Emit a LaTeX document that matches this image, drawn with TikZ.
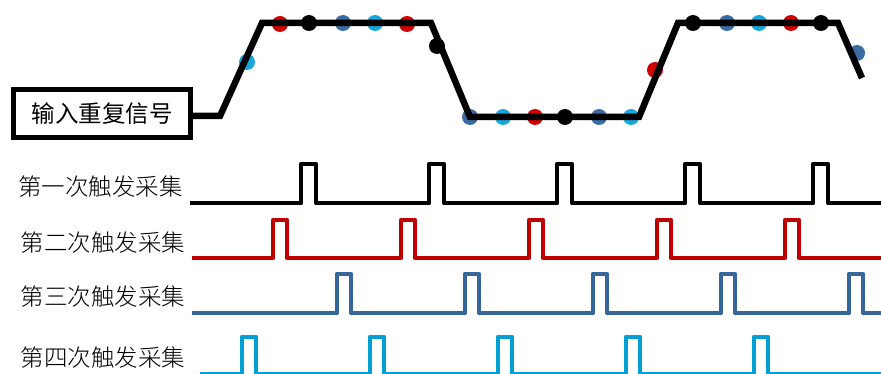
\documentclass[tikz,border=0pt]{standalone}
\usepackage{fontspec}
\newfontfamily\cjk{Noto Sans CJK SC}
\newfontfamily\cjklt{Noto Sans CJK SC Light}
\definecolor{cred}{HTML}{C00000}
\definecolor{cdblue}{HTML}{35679A}
\definecolor{ccyan}{HTML}{00A0D4}
\definecolor{dcyan}{HTML}{1AA6DC}
\definecolor{ddblue}{HTML}{3A6CA3}
\definecolor{dred}{HTML}{D00000}
\begin{document}
\begin{tikzpicture}[x=1pt,y=-1pt,
  wave/.style={line width=6.5pt,line join=miter,black},
  pulsetrain/.style={line width=4.5pt,line join=round},
  dotc/.style={circle,inner sep=0pt,minimum size=16pt,fill=#1},
  lbl/.style={anchor=west,inner sep=0pt,font=\cjklt\fontsize{23.5}{24}\selectfont},
  boxed/.style={draw,line width=5pt,minimum width=177pt,minimum height=48pt,inner sep=0pt,font=\cjk\fontsize{23.5}{24}\selectfont}]
\useasboundingbox (0,0) rectangle (881,374);
% sample dots
\foreach \n/\x/\y/\c in {1/247/62/dcyan,2/280/24/dred,3/309/23/black,4/343/23/ddblue,5/375/23/dcyan,6/407/24/dred,7/437/46/black,8/470/117/ddblue,9/503/117/dcyan,10/535/117/dred,11/565/117/black,12/599/117/ddblue,13/631/117/dcyan,14/655/70/dred,15/693/23/black,16/727/23/ddblue,17/759/23/dcyan,18/791/23/dred,19/821/23/black,20/857/53/ddblue}
  \node[dotc=\c] (d\n) at (\x,\y) {};
% input box
\node[boxed] (inbox) at (102,113.5) {输入重复信号};
\coordinate (w0) at (190,116);
\coordinate (wend) at (862,78);
\draw[wave] (w0) -- (220,116) -- (262,23) -- (431,23) -- (470,117) -- (639,117) -- (678,23) -- (838,23) -- (wend);
% labels
\node[lbl] (l1) at (18,187) {第一次触发采集};
\node[lbl] (l2) at (20.5,243) {第二次触发采集};
\node[lbl] (l3) at (20.5,297) {第三次触发采集};
\node[lbl] (l4) at (20.5,358) {第四次触发采集};
% pulse trains
\coordinate (a0) at (190,203); \coordinate (a1) at (881,203);
\coordinate (b0) at (192,258); \coordinate (b1) at (881,258);
\coordinate (c0) at (192,313); \coordinate (c1) at (881,313);
\coordinate (e0) at (200,374); \coordinate (e1) at (881,374);
\draw[pulsetrain,black] (a0) foreach \p in {301,429,557,685,813} { -- (\p,203) -- (\p,164) -- ({\p+15},164) -- ({\p+15},203) } -- (a1);
\draw[pulsetrain,cred] (b0) foreach \p in {273,401,529,657,785} { -- (\p,258) -- (\p,220) -- ({\p+14},220) -- ({\p+14},258) } -- (b1);
\draw[pulsetrain,cdblue] (c0) foreach \p in {337,465,593,721,849} { -- (\p,313) -- (\p,274) -- ({\p+14},274) -- ({\p+14},313) } -- (c1);
\draw[pulsetrain,ccyan] (e0) foreach \p in {242,370,498,626,754} { -- (\p,374) -- (\p,337) -- ({\p+14},337) -- ({\p+14},374) } -- (e1);
\end{tikzpicture}
\end{document}
